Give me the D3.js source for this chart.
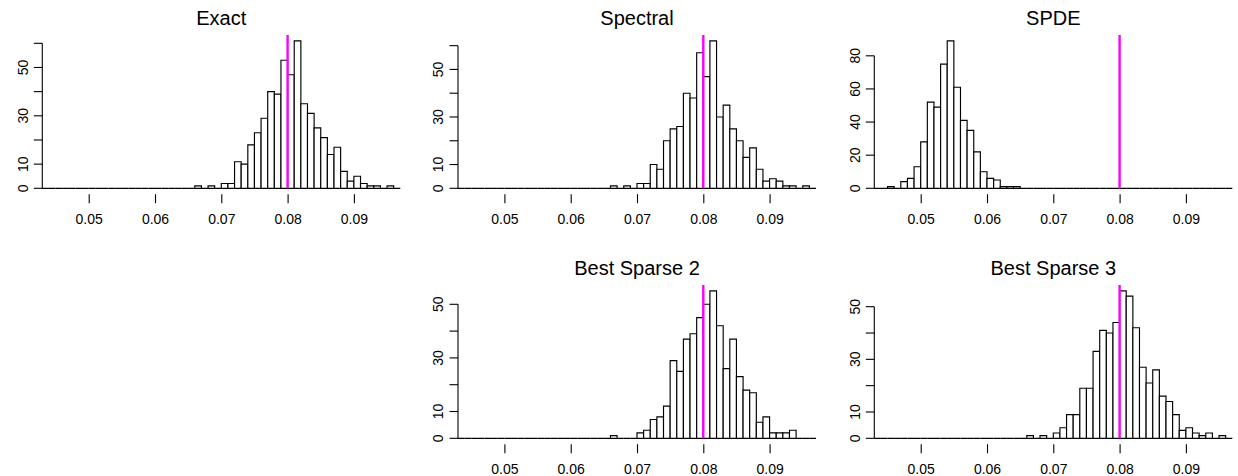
<!DOCTYPE html>
<html><head><meta charset="utf-8">
<script src="https://cdn.jsdelivr.net/npm/d3@7"></script>
<style>html,body{margin:0;padding:0;background:#fff;} svg{display:block;}</style>
</head><body><svg id="c" width="1238" height="476"></svg>
<script>
// ---- data ----
const titles = ["Exact", "Spectral", "SPDE", "Best Sparse 2", "Best Sparse 3"];
const binStart = 0.043, binWidth = 0.001;   // histogram breaks 0.043, 0.044, ..., 0.097
const exactCounts = [0,0,0,0,0,0,0,0,0,0, 0,0,0,0,0,0,0,0,0,0, 0,0,0,
  1,0,1,0,2,2,11,10,18,23,29,40,39,53,47,61,35,31,25,21,14,17,7,3,5,2,1,1,0,1,0];
const spectralCounts = [0,0,0,0,0,0,0,0,0,0, 0,0,0,0,0,0,0,0,0,0, 0,0,0,
  1,0,1,0,2,2,10,8,20,25,26,40,38,57,47,62,30,35,25,20,13,17,8,3,4,3,1,1,0,1,0];
const spdeCounts = [0,0,1,0,4,6,13,28,52,49,75,89,61,41,35,22,10,6,5,1,1,1,
  0,0,0,0,0,0,0,0,0,0, 0,0,0,0,0,0,0,0,0,0, 0,0,0,0,0,0,0,0,0,0, 0,0];
const sparse2Counts = [0,0,0,0,0,0,0,0,0,0, 0,0,0,0,0,0,0,0,0,0, 0,0,0,
  1,0,0,0,2,3,7,8,12,29,25,37,39,45,50,55,42,26,37,23,18,17,6,8,2,2,2,3,0,0,0];
const sparse3Counts = [0,0,0,0,0,0,0,0,0,0, 0,0,0,0,0,0,0,0,0,0, 0,0,0,
  1,0,1,0,2,4,9,9,19,19,33,41,40,44,56,54,42,27,21,26,16,14,9,3,4,2,1,2,0,1,0];
const seriesCounts = [exactCounts, spectralCounts, spdeCounts, sparse2Counts, sparse3Counts];
const xTicks = [0.05, 0.06, 0.07, 0.08, 0.09];
const xTickLabels = ["0.05", "0.06", "0.07", "0.08", "0.09"];
const trueValue = 0.08;
const yTicksList = [
  [0,10,20,30,40,50,60], [0,10,20,30,40,50,60], [0,20,40,60,80],
  [0,10,20,30,40,50], [0,10,20,30,40,50]];
const yLabelsList = [
  [0,10,30,50], [0,10,30,50], [0,20,40,60,80], [0,10,30,50], [0,10,30,50]];

// ---- layout ----
const slots = [[0,0],[0,1],[0,2],[1,1],[1,2]];
const colLeft = [42.3, 458, 874.3], colW = 358;
const rowTop = [35, 285], rowH = 159.2;
const FONT = "'Liberation Sans', Arial, Helvetica, sans-serif";

const svg = d3.select("#c");
svg.append("rect").attr("width",1238).attr("height",476).attr("fill","#fff");

seriesCounts.forEach((counts, k) => {
  const [r, c] = slots[k];
  const x0 = colLeft[c], x1 = x0 + colW, y0 = rowTop[r], y1 = y0 + rowH;
  const M = d3.max(counts);
  const x = d3.scaleLinear().domain([0.043, 0.097]).range([x0, x1]);
  const y = d3.scaleLinear().domain([-0.04 * M, 1.04 * M]).range([y1, y0]);
  const g = svg.append("g");

  // bars
  const bins = counts.map((v, i) => ({a: binStart + i * binWidth, b: binStart + (i + 1) * binWidth, v}));
  g.selectAll("path.bar").data(bins).join("path")
    .attr("class","bar")
    .attr("d", d => `M${x(d.a)},${y(0)}V${y(d.v)}H${x(d.b)}V${y(0)}Z`)
    .attr("fill","#fff").attr("stroke","#000").attr("stroke-width",1.15);

  // true value line
  g.append("line").attr("x1", x(trueValue)).attr("x2", x(trueValue))
    .attr("y1", y0).attr("y2", y(0))
    .attr("stroke","#ff00ff").attr("stroke-width",2.4);

  // title
  g.append("text").attr("x", (x0 + x1) / 2).attr("y", y0 - 10.5)
    .attr("text-anchor","middle").attr("font-family",FONT).attr("font-size",20)
    .attr("fill","#000").text(titles[k]);

  // x axis ticks (no axis line)
  const xa = d3.axisBottom(x).tickValues(xTicks).tickSize(9)
    .tickFormat((d, i) => xTickLabels[i]);
  const gx = g.append("g").attr("transform", `translate(0,${y1})`).call(xa);
  gx.select(".domain").remove();
  gx.selectAll("line").attr("stroke","#000").attr("stroke-width",1.1);
  gx.selectAll("text").attr("font-family",FONT).attr("font-size",14).attr("fill","#000")
    .attr("dy", null).attr("y", 30.3);

  // y axis
  const yt = yTicksList[k], yl = yLabelsList[k];
  const ya = d3.axisLeft(y).tickValues(yt).tickSize(8.5).tickSizeOuter(0)
    .tickFormat(d => yl.includes(d) ? String(d) : "");
  const gy = g.append("g").attr("transform", `translate(${x0},0)`).call(ya);
  gy.select(".domain").attr("d", `M0,${y(yt[0])}V${y(yt[yt.length-1])}`)
    .attr("stroke","#000").attr("stroke-width",1.1);
  gy.selectAll("line").attr("stroke","#000").attr("stroke-width",1.1);
  gy.selectAll("text")
    .attr("font-family",FONT).attr("font-size",14).attr("fill","#000")
    .attr("text-anchor","middle").attr("dy",null)
    .attr("x",null)
    .attr("transform", d => `translate(-14.8,${y(d)}) rotate(-90)`)
    .attr("y",0);
  gy.selectAll(".tick").attr("transform", null);
  gy.selectAll(".tick line").attr("y1", d => y(d)).attr("y2", d => y(d)).attr("x2", -8.5);
});
</script>
</body></html>
